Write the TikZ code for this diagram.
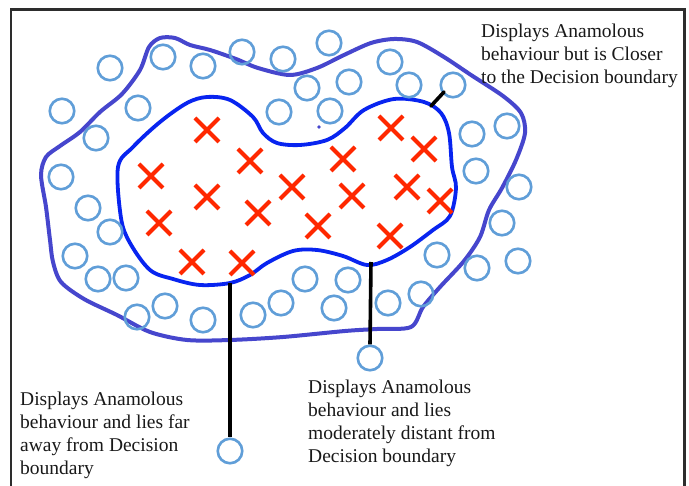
\documentclass[tikz,border=0pt]{standalone}
\usepackage{fontspec}
\setmainfont{Liberation Serif}
\usetikzlibrary{shapes.misc}
\definecolor{ringblue}{RGB}{96,158,216}
\definecolor{crossred}{RGB}{255,40,0}
\definecolor{innerblue}{RGB}{8,36,240}
\definecolor{outerblue}{RGB}{70,70,205}
\definecolor{framegray}{RGB}{45,45,45}
\definecolor{textblack}{RGB}{25,25,25}
\begin{document}
\begin{tikzpicture}[x=1pt,y=-1pt,
  ring/.style={circle, draw=ringblue, line width=2.6pt, minimum size=24.5pt, inner sep=0pt},
  anomaly/.style={cross out, draw=crossred, line width=4pt, minimum size=20pt, inner sep=0pt},
  note/.style={anchor=north west, inner sep=0pt, align=left,
    font=\fontsize{19.5}{23}\selectfont, text=textblack},
  pointer/.style={line width=3.6pt, black},
  boundary/.style={line width=3.8pt, line join=round},
]
\useasboundingbox (0,0) rectangle (689,486);
\fill[white] (0,0) rectangle (689,486);

% frame
\draw[line width=2.6pt, framegray] (11,486) -- (11,9.5) -- (684.5,9.5) -- (684.5,486);

% outer (normal-data) boundary
\draw[boundary, outerblue, line width=4pt] plot[smooth cycle, tension=0.5] coordinates {
  (41,175) (46,207) (50,240) (53,262) (61,282) (84,299) (117,315) (150,332)
  (187,340) (230,340) (283,337) (345,331) (377,329) (411,327) (423,307)
  (440,287) (464,261) (480,237) (489,210) (502,188) (516,160) (525,133)
  (521,113) (503,96) (471,75) (444,57) (417,42) (394,39) (371,43) (344,55)
  (317,68) (290,75) (258,68) (236,59) (210,50) (190,45) (175,38) (160,38)
  (149,47) (140,70) (122,94) (100,112) (80,132) (60,146) (46,157)};

% stray pen dot
\fill[outerblue] (319,127) circle (1.8);

% inner (decision) boundary
\draw[boundary, innerblue] plot[smooth cycle, tension=0.55] coordinates {
  (118,167) (133,147) (160,122) (187,103) (207,97) (230,100) (253,117)
  (263,133) (277,143) (300,145) (327,140) (345,128) (364,110) (394,99)
  (424,102) (441,113) (449,133) (452,167) (456,188) (450,216) (433,230)
  (410,247) (387,260) (367,265) (343,256) (317,250) (293,251) (267,263)
  (250,275) (230,283) (200,285) (173,279) (150,270) (130,243) (121,218)};

% anomalies
\foreach \x/\y [count=\i] in {207/130, 250/161, 151/176, 207/197, 292/187,
    258/213, 318/226, 159/223, 343/159, 391/128, 424/149, 352/196,
    407/187, 440/201, 390/236, 192/262, 242/263}
  \node[anomaly] (x\i) at (\x,\y) {};

% normal points
\foreach \x/\y [count=\i] in {110/68, 163/57, 203/66, 242/52, 283/59, 329/43,
    307/88, 349/82, 390/62, 409/85, 453/85, 62/111, 138/108, 96/138,
    279/112, 330/111, 472/134, 507/126, 476/171, 519/187, 502/223,
    61/177, 88/208, 110/232, 75/256, 98/279, 126/278, 137/317, 165/306,
    203/320, 253/315, 281/303, 305/279, 334/308, 348/280, 388/303,
    421/294, 437/255, 477/268, 518/261}
  \node[ring] (o\i) at (\x,\y) {};

% points singled out by the notes
\node[ring] (far) at (230,451) {};
\node[ring] (mid) at (370,358) {};
\coordinate (nearend) at (444,92);
\coordinate (nearfoot) at (431,106);
\coordinate (farfoot) at (230,283);
\coordinate (midfoot) at (371,262);

\draw[pointer, line cap=round] (nearfoot) -- (nearend);
\draw[pointer] (farfoot) -- (far.north);
\draw[pointer] (midfoot) -- (mid.north);

% notes
\node[note] (t1) at (481,24) {Displays Anamolous\\behaviour but is Closer\\to the Decision boundary};
\node[note] (t2) at (20,392) {Displays Anamolous\\behaviour and lies far\\away from Decision\\boundary};
\node[note] (t3) at (308,380) {Displays Anamolous\\behaviour and lies\\moderately distant from\\Decision boundary};
\end{tikzpicture}
\end{document}
